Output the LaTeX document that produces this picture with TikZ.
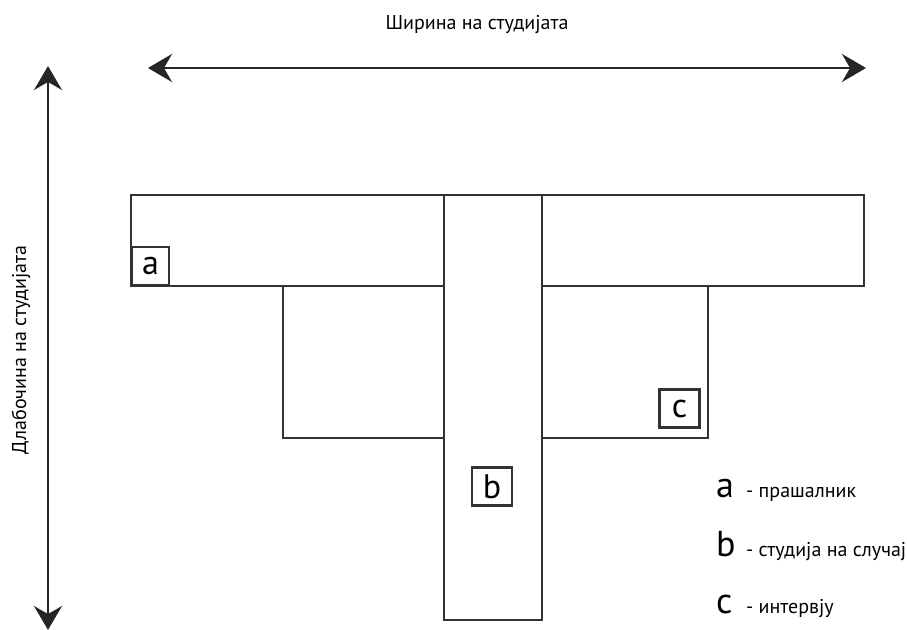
\documentclass[tikz,border=0pt]{standalone}
\usepackage{fontspec}
\setmainfont{PT Sans}
\usetikzlibrary{arrows.meta}
\begin{document}
\begin{tikzpicture}[x=1pt,y=-1pt,
  frame/.style={draw=black!80,line width=2.3pt,line join=miter},
  lbox/.style={draw=black!80,line width=2.1pt,fill=white,inner sep=0pt,minimum width=37pt,minimum height=38pt,font=\fontsize{34}{34}\selectfont},
  axis/.style={draw=black!85,line width=2.3pt,{Stealth[length=24pt,width=28pt,inset=8pt]}-{Stealth[length=24pt,width=28pt,inset=8pt]}},
  small/.style={font=\fontsize{20}{20}\selectfont},
  big/.style={font=\fontsize{36}{36}\selectfont}]
\useasboundingbox (0,0) rectangle (907,629);
% axes
\coordinate (hl) at (148,68);
\coordinate (hr) at (866,68);
\draw[axis] (hl) -- (hr);
\coordinate (vt) at (48,66);
\coordinate (vb) at (48,630);
\draw[axis] (vt) -- (vb);
\node[small] (wtitle) at (477,25) {Ширина на студијата};
\node[small,rotate=90] (dtitle) at (21,350) {Длабочина на студијата};
% structure
\draw[frame] (131,195) rectangle (864,286);
\draw[frame] (283,286) rectangle (708,438);
\draw[frame,fill=white] (444,195) rectangle (542,620);
% boxes
\node[lbox,anchor=south west] (a) at (131,286) {a};
\node[lbox,minimum width=40pt] (c) at (679.5,408.5) {c};
\node[lbox,minimum width=40pt] (b) at (492,486.5) {b};
% legend
\node[big,anchor=base west,inner sep=0pt] (la) at (716,497) {a};
\node[small,anchor=base west,inner sep=0pt] (ta) at (746,497) {- прашалник};
\node[big,anchor=base west,inner sep=0pt] (lb) at (716,556) {b};
\node[small,anchor=base west,inner sep=0pt] (tb) at (746,556) {- студија на случај};
\node[big,anchor=base west,inner sep=0pt] (lc) at (716,613) {c};
\node[small,anchor=base west,inner sep=0pt] (tc) at (746,613) {- интервју};
\end{tikzpicture}
\end{document}
